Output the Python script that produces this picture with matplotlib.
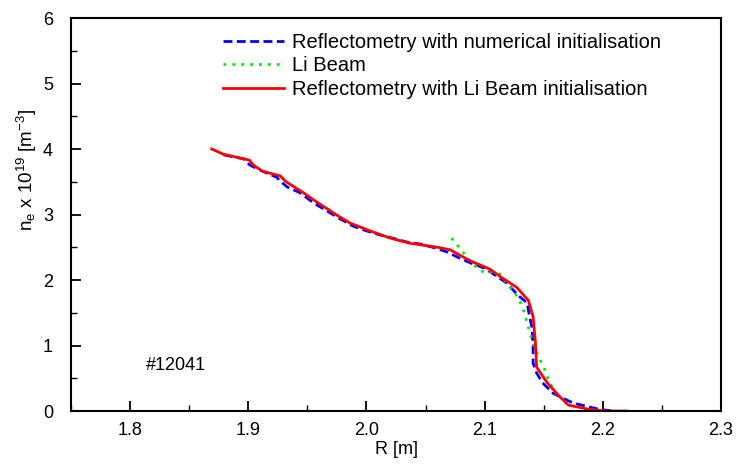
import matplotlib
matplotlib.use("Agg")
import matplotlib.pyplot as plt
from matplotlib.ticker import MultipleLocator

plt.rcParams['font.family'] = ['Liberation Sans', 'DejaVu Sans']
plt.rcParams['mathtext.fontset'] = 'custom'
plt.rcParams['mathtext.rm'] = 'Liberation Sans'
plt.rcParams['mathtext.it'] = 'Liberation Sans'

# Reflectometry with numerical initialisation (blue dashed)
r_num = [1.879, 1.896, 1.901, 1.904, 1.916, 1.924, 1.927, 1.933, 1.944, 1.955,
         1.967, 1.978, 1.989, 2.000, 2.011, 2.022, 2.034, 2.045, 2.056, 2.068,
         2.077, 2.088, 2.100, 2.110, 2.119, 2.128, 2.136, 2.138, 2.140, 2.141,
         2.141, 2.144, 2.149, 2.158, 2.175, 2.189, 2.198, 2.210]
n_num = [3.91, 3.85, 3.76, 3.73, 3.63, 3.57, 3.51, 3.42, 3.33, 3.18,
         3.05, 2.93, 2.82, 2.75, 2.69, 2.64, 2.58, 2.55, 2.50, 2.43,
         2.35, 2.26, 2.18, 2.06, 1.95, 1.77, 1.65, 1.44, 1.28, 0.98,
         0.73, 0.58, 0.43, 0.27, 0.12, 0.06, 0.02, 0.00]

# Li Beam (green dotted)
r_li = [2.072, 2.081, 2.089, 2.094, 2.100, 2.106, 2.113, 2.119, 2.124, 2.128,
        2.132, 2.134, 2.137, 2.140, 2.144, 2.147, 2.151, 2.154, 2.157, 2.162]
n_li = [2.64, 2.44, 2.26, 2.18, 2.11, 2.12, 2.09, 1.95, 1.83, 1.74,
        1.59, 1.47, 1.28, 1.08, 0.90, 0.78, 0.63, 0.47, 0.37, 0.24]

# Reflectometry with Li Beam initialisation (red solid)
r_lib = [1.869, 1.879, 1.901, 1.904, 1.912, 1.927, 1.932, 1.946, 1.958, 1.975,
         1.986, 2.003, 2.020, 2.037, 2.060, 2.071, 2.088, 2.104, 2.115, 2.127,
         2.137, 2.141, 2.143, 2.144, 2.153, 2.164, 2.171, 2.187, 2.202, 2.220]
n_lib = [4.00, 3.92, 3.83, 3.76, 3.66, 3.59, 3.50, 3.34, 3.19, 2.99,
         2.87, 2.75, 2.64, 2.56, 2.50, 2.46, 2.29, 2.17, 2.03, 1.89,
         1.69, 1.44, 1.04, 0.67, 0.43, 0.21, 0.09, 0.03, 0.00, 0.00]

labels = ["Reflectometry with numerical initialisation", "Li Beam",
          "Reflectometry with Li Beam initialisation"]
xticks = [1.8, 1.9, 2.0, 2.1, 2.2, 2.3]
xticklabels = ["1.8", "1.9", "2.0", "2.1", "2.2", "2.3"]
yticks = [0, 1, 2, 3, 4, 5, 6]

fig = plt.figure(figsize=(7.39, 4.65), dpi=100)
ax = fig.add_axes([71/739, 1-411/465, 650/739, 393/465])

ax.plot(r_num, n_num, color='#0000ff', lw=2.0, dashes=(3.2, 1.6), label=labels[0])
ax.plot(r_li, n_li, color='#00ee00', lw=2.0, dashes=(1.0, 2.2), label=labels[1])
ax.plot(r_lib, n_lib, color='#ff0000', lw=2.0, label=labels[2])

ax.set_xlim(1.75, 2.3)
ax.set_ylim(0, 6)
ax.set_xticks(xticks)
ax.set_xticklabels(xticklabels)
ax.set_yticks(yticks)
ax.xaxis.set_minor_locator(MultipleLocator(0.05))
ax.yaxis.set_minor_locator(MultipleLocator(0.5))
ax.tick_params(which='major', direction='in', length=7, width=1.3, labelsize=13)
ax.tick_params(axis='y', which='major', pad=13)
ax.tick_params(axis='x', which='major', pad=8)
ax.tick_params(which='minor', direction='in', length=4, width=1.0)
ax.tick_params(top=False, right=False, which='both')
for s in ax.spines.values():
    s.set_linewidth(1.5)

ax.set_xlabel("R [m]", fontsize=13)
ax.xaxis.set_label_coords((397-71)/650, (411-441)/393)
ax.set_ylabel(r"n$_{e}$ x 10$^{19}$ [m$^{-3}$]", fontsize=13.5)
ax.yaxis.set_label_coords((39-71)/650, (411-170)/393)

ax.text(1.813, 0.70, "#12041", fontsize=13, va='center', ha='left')

leg = ax.legend(loc='upper left', bbox_to_anchor=(0.234, 0.962), frameon=False,
                fontsize=14.5, handlelength=3.0, handletextpad=0.4,
                labelspacing=0.22, borderpad=0, borderaxespad=0)

fig.savefig("out.png", dpi=100)
